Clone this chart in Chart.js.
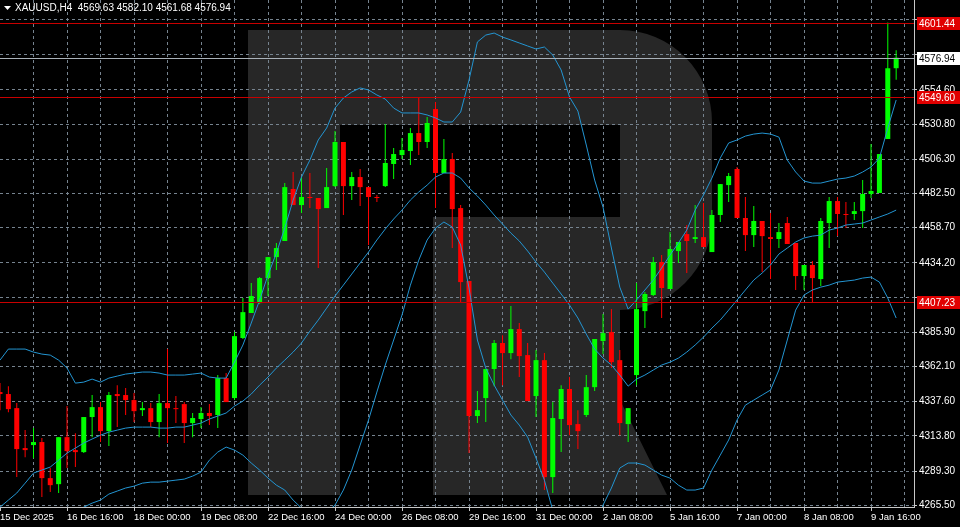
<!DOCTYPE html>
<html>
<head>
<meta charset="utf-8">
<script src="https://cdn.jsdelivr.net/npm/chart.js@4.4.1/dist/chart.umd.min.js"></script>
<style>
  html, body { margin: 0; padding: 0; background: #000; }
  canvas { display: block; }
</style>
</head>
<body>
<canvas id="chartGold" width="960" height="527"></canvas>
<script>
// ===== XAUUSD H4 — candles + Bollinger bands =====

const opens = [4344.3,4342.9,4333.1,4305.3,4307.4,4309.5,4284.4,4280.2,4312.9,4303.9,
  4302.5,4326.9,4333.8,4317.1,4342.9,4342.2,4338.7,4331.7,4333.1,4323.4,
  4336.6,4333.1,4335.9,4322.7,4325.5,4329.7,4328.3,4354.0,4340.1,4381.9,
  4399.3,4406.2,4423.6,4438.2,4449.4,4485.6,4474.4,4480.0,4479.3,4472.3,
  4487.6,4518.3,4487.6,4493.9,4486.9,4480.0,4487.6,4503.0,4509.2,4512.0,
  4524.5,4518.3,4541.2,4496.7,4506.4,4472.3,4421.5,4327.6,4340.1,4360.3,
  4378.4,4371.4,4388.1,4370.0,4341.5,4366.5,4285.1,4325.5,4346.4,4322.0,
  4328.3,4347.7,4379.8,4386.0,4366.5,4322.0,4356.1,4400.6,4411.8,4434.7,
  4416.0,4442.4,4454.2,4450.8,4452.1,4441.7,4467.5,4488.3,4499.5,4465.4,
  4453.5,4463.3,4452.1,4450.8,4461.9,4448.0,4425.0,4432.7,4422.9,4461.9,
  4477.2,4468.2,4468.2,4470.2,4482.1,4482.8,4520.4,4569.63];
const highs = [4350.5,4348.4,4336.6,4317.8,4319.2,4312.3,4291.4,4312.9,4334.5,4315.7,
  4326.9,4342.2,4337.3,4344.3,4349.1,4347.1,4343.6,4337.3,4336.6,4342.9,
  4374.2,4341.5,4337.3,4329.7,4333.8,4335.9,4356.1,4357.5,4386.0,4409.7,
  4420.1,4424.3,4438.2,4448.0,4489.7,4497.4,4493.9,4496.7,4479.3,4500.2,
  4525.9,4518.3,4497.4,4499.5,4486.9,4481.4,4530.8,4514.1,4521.1,4528.0,
  4548.9,4535.7,4546.1,4520.4,4510.6,4474.4,4421.5,4345.0,4360.3,4380.5,
  4383.9,4404.1,4392.3,4378.4,4373.5,4371.4,4337.3,4349.1,4354.7,4331.7,
  4356.1,4381.2,4398.6,4402.0,4373.5,4333.1,4420.1,4413.9,4438.2,4439.6,
  4455.6,4448.7,4460.5,4474.4,4475.8,4470.9,4489.0,4496.7,4500.9,4480.0,
  4473.7,4463.3,4468.9,4461.9,4466.1,4448.0,4432.7,4435.4,4465.4,4480.0,
  4480.0,4476.5,4476.5,4491.8,4516.9,4509.9,4601.44,4582.10];
const lows = [4331.7,4330.3,4285.1,4299.0,4298.3,4271.2,4274.7,4274.0,4291.4,4292.1,
  4301.8,4312.9,4309.5,4306.7,4319.9,4328.3,4323.4,4327.6,4319.9,4312.9,
  4308.8,4322.7,4308.8,4312.9,4319.2,4321.3,4319.2,4337.3,4338.7,4381.2,
  4399.3,4405.5,4411.1,4429.2,4449.4,4474.4,4468.9,4472.3,4430.6,4472.3,
  4486.9,4467.5,4477.9,4473.7,4446.6,4476.5,4486.9,4492.5,4506.4,4502.3,
  4509.2,4514.1,4472.3,4496.7,4444.5,4406.9,4301.8,4322.7,4323.4,4348.4,
  4349.1,4367.2,4354.7,4338.0,4326.9,4276.1,4274.0,4302.5,4314.3,4304.6,
  4326.9,4345.0,4370.7,4361.0,4314.3,4309.5,4349.1,4388.8,4411.1,4395.8,
  4416.0,4434.1,4427.1,4448.0,4445.2,4441.7,4462.6,4476.5,4465.4,4442.4,
  4445.2,4427.8,4422.9,4444.5,4447.3,4415.3,4415.3,4406.9,4418.0,4444.5,
  4452.8,4458.4,4464.0,4458.4,4479.3,4482.8,4520.4,4561.68];
const closes = [4342.9,4332.4,4304.6,4303.9,4309.5,4284.4,4279.5,4312.9,4303.2,4302.5,
  4326.9,4333.8,4317.1,4342.2,4341.5,4338.7,4331.0,4333.1,4323.4,4336.6,
  4333.1,4332.4,4322.7,4326.2,4329.7,4327.6,4354.0,4337.3,4383.2,4399.9,
  4411.1,4423.6,4438.2,4444.5,4486.9,4474.4,4480.0,4479.3,4471.6,4486.9,
  4518.3,4487.6,4493.9,4486.9,4480.0,4479.3,4503.7,4509.9,4512.7,4524.5,
  4518.3,4531.5,4496.7,4506.4,4471.6,4420.8,4327.6,4331.7,4360.3,4378.4,
  4371.4,4388.1,4369.3,4338.0,4366.5,4285.1,4326.2,4346.4,4321.3,4317.1,
  4347.7,4381.2,4385.3,4365.1,4322.7,4333.1,4402.0,4412.5,4434.7,4416.7,
  4443.8,4448.7,4449.4,4452.1,4445.2,4467.5,4489.0,4494.6,4465.4,4453.5,
  4463.3,4452.8,4450.8,4455.6,4447.3,4425.0,4432.7,4423.6,4463.3,4477.2,
  4468.2,4467.5,4470.2,4482.1,4484.2,4509.9,4569.6,4576.94];

const bbUpper = [4366.5,4374.2,4374.2,4374.2,4372.1,4370.7,4370.0,4366.5,4361.0,4350.5,
  4351.2,4353.3,4351.2,4354.0,4355.4,4356.8,4357.5,4358.2,4358.2,4357.5,
  4356.1,4356.1,4356.1,4356.8,4357.5,4354.7,4354.0,4354.0,4365.1,4377.0,
  4392.3,4408.3,4425.7,4441.0,4458.4,4477.9,4493.9,4505.7,4519.7,4528.0,
  4541.9,4548.9,4553.1,4555.9,4554.5,4551.0,4548.2,4541.9,4538.5,4538.5,
  4538.5,4537.1,4535.0,4532.2,4532.2,4539.1,4561.4,4587.9,4592.7,4594.1,
  4591.3,4589.3,4587.2,4585.1,4583.0,4584.4,4578.8,4568.4,4549.6,4539.8,
  4516.2,4491.8,4473.0,4444.5,4417.3,4402.0,4408.3,4415.3,4422.2,4430.6,
  4439.6,4448.0,4457.0,4470.9,4481.4,4493.2,4507.1,4517.6,4519.7,4522.4,
  4523.8,4524.5,4523.8,4521.7,4505.7,4497.4,4491.1,4489.7,4489.7,4491.1,
  4492.5,4493.2,4494.6,4497.4,4500.9,4507.1,4528.0,4547.5];
const bbMiddle = [4264.2,4269.1,4274.0,4280.9,4287.9,4290.0,4292.1,4296.9,4301.8,4305.3,
  4308.8,4311.6,4314.3,4316.4,4317.8,4319.2,4319.9,4319.9,4319.9,4319.2,
  4319.2,4319.9,4319.9,4321.3,4322.7,4325.5,4327.6,4329.7,4334.5,4338.0,
  4342.9,4349.1,4354.7,4361.0,4366.5,4372.1,4378.4,4386.7,4394.4,4402.7,
  4411.1,4418.7,4426.4,4434.1,4441.7,4450.1,4457.7,4464.7,4470.9,4477.9,
  4483.5,4488.3,4493.9,4496.7,4496.7,4493.2,4486.3,4480.7,4474.4,4467.5,
  4461.2,4454.9,4449.4,4442.4,4434.7,4427.8,4420.1,4412.5,4404.8,4395.8,
  4384.6,4374.2,4367.9,4363.1,4356.1,4348.4,4353.3,4356.1,4359.6,4363.1,
  4365.1,4367.9,4372.1,4377.0,4382.5,4388.8,4394.4,4401.3,4408.3,4415.3,
  4422.2,4427.1,4432.7,4440.3,4444.5,4448.7,4451.5,4452.8,4453.5,4457.0,
  4458.4,4460.5,4461.2,4461.9,4464.0,4466.1,4468.2,4470.9];
const bbLower = [4161.2,4164.7,4173.7,4187.7,4203.7,4209.2,4214.1,4227.3,4242.7,4260.1,
  4264.2,4267.0,4269.1,4273.3,4275.4,4277.5,4278.8,4280.9,4281.6,4281.6,
  4282.3,4283.0,4283.7,4285.8,4288.6,4296.9,4302.5,4306.0,4303.9,4300.4,
  4294.9,4290.0,4284.4,4279.5,4276.1,4269.1,4263.5,4260.7,4258.7,4260.7,
  4265.6,4276.1,4290.0,4307.4,4324.8,4344.3,4363.1,4380.5,4397.9,4418.7,
  4436.1,4450.1,4458.4,4462.6,4459.1,4446.6,4416.7,4380.5,4361.0,4349.1,
  4338.7,4328.3,4321.3,4312.9,4298.3,4283.0,4262.1,4248.2,4237.8,4234.3,
  4237.8,4248.2,4265.6,4277.5,4291.4,4294.9,4294.9,4293.5,4290.0,4286.5,
  4284.4,4279.5,4276.1,4276.1,4277.5,4290.0,4300.4,4310.9,4324.8,4335.2,
  4338.7,4342.2,4345.7,4359.6,4380.5,4401.3,4411.8,4415.3,4417.3,4418.7,
  4420.8,4421.5,4422.2,4423.6,4424.3,4420.8,4409.7,4395.8];

const xTickLabels = ['15 Dec 2025', '16 Dec 16:00', '18 Dec 00:00', '19 Dec 08:00', '22 Dec 16:00',
  '24 Dec 00:00', '26 Dec 08:00', '29 Dec 16:00', '31 Dec 00:00', '2 Jan 08:00',
  '5 Jan 16:00', '7 Jan 00:00', '8 Jan 08:00', '9 Jan 16:00'];
const yTickValues = [4265.5, 4289.3, 4313.8, 4337.6, 4362.1, 4385.9, 4410.4, 4434.2,
  4458.7, 4482.5, 4506.3, 4530.8, 4554.6, 4578.9, 4603.2];
// labels covered by the price tags in the original are left blank
const yTickLabels = ['4265.50', '4289.30', '4313.80', '4337.60', '4362.10', '4385.90', '', '4434.20',
  '4458.70', '4482.50', '4506.30', '4530.80', '4554.60', '', ''];
const levelLines = [4601.44, 4549.60, 4407.23];
const lastPrice = 4576.94;
const headerText = 'XAUUSD,H4  4569.63 4582.10 4561.68 4576.94';

const C = {
  bg: '#000000',
  up: '#00ff00',
  down: '#ff0000',
  band: '#2395d2',
  grid: '#76838f',
  axis: '#c8c8c8',
  level: '#c80000',
  price: '#a9b1b9',
  logo: '#272727',
  text: '#ffffff'
};
const fontAxis = "'Liberation Sans', Arial, sans-serif";

const candleColors = closes.map((c, i) => c >= opens[i] ? C.up : C.down);

// ----- background + watermark logo -----
const pluginBackdrop = {
  id: 'backdrop',
  beforeDraw(chart) {
    const { ctx, chartArea: a } = chart;
    ctx.save();
    ctx.fillStyle = C.bg;
    ctx.fillRect(0, 0, chart.width, chart.height);
    // logo drawn in a 914 x 507 design box scaled to the plot area
    const X = v => a.left + v / 914 * (a.right - a.left);
    const Y = v => a.top + v / 507 * (a.bottom - a.top);
    const r = 92 / 914 * (a.right - a.left);
    ctx.fillStyle = C.logo;
    ctx.beginPath();
    ctx.moveTo(X(248), Y(30));
    ctx.lineTo(X(620), Y(30));
    ctx.arcTo(X(712), Y(30), X(712), Y(122), r);
    ctx.lineTo(X(712), Y(218));
    ctx.arcTo(X(712), Y(310), X(620), Y(310), r);
    ctx.lineTo(X(620), Y(400));
    ctx.lineTo(X(667), Y(495));
    ctx.lineTo(X(433), Y(495));
    ctx.lineTo(X(433), Y(217));
    ctx.lineTo(X(620), Y(217));
    ctx.lineTo(X(620), Y(125));
    ctx.lineTo(X(340), Y(125));
    ctx.lineTo(X(340), Y(495));
    ctx.lineTo(X(248), Y(495));
    ctx.closePath();
    ctx.fill();
    ctx.restore();
  }
};

// ----- horizontal levels, price tags, header -----
const pluginLevels = {
  id: 'levels',
  afterDatasetsDraw(chart) {
    const { ctx, chartArea: a, scales: { y } } = chart;
    const tag = (v, fill, txtColor) => {
      const py = Math.round(y.getPixelForValue(v));
      ctx.fillStyle = fill;
      ctx.fillRect(a.right + 3, py - 6, chart.width - a.right - 3, 13);
      ctx.fillStyle = txtColor;
      ctx.font = `10px ${fontAxis}`;
      ctx.textAlign = 'left';
      ctx.textBaseline = 'middle';
      ctx.fillText(v.toFixed(2), a.right + 5, py + 1);
    };
    ctx.save();
    ctx.lineWidth = 1;
    const hline = (v, color) => {
      const py = Math.round(y.getPixelForValue(v)) + 0.5;
      ctx.strokeStyle = color;
      ctx.beginPath();
      ctx.moveTo(a.left, py);
      ctx.lineTo(a.right, py);
      ctx.stroke();
    };
    hline(lastPrice, C.price);
    levelLines.forEach(v => hline(v, C.level));
    tag(lastPrice, '#ffffff', '#000000');
    levelLines.forEach(v => tag(v, '#e00000', '#ffffff'));
    ctx.restore();
  },
  afterDraw(chart) {
    const { ctx } = chart;
    ctx.save();
    ctx.fillStyle = C.text;
    ctx.beginPath();
    ctx.moveTo(4, 6); ctx.lineTo(11, 6); ctx.lineTo(7.5, 10);
    ctx.closePath();
    ctx.fill();
    ctx.font = `10px ${fontAxis}`;
    ctx.textAlign = 'left';
    ctx.textBaseline = 'middle';
    ctx.fillText(headerText, 15, 8);
    ctx.restore();
  }
};

const xy = arr => arr.map((v, i) => ({ x: i, y: v }));

new Chart(document.getElementById('chartGold'), {
  type: 'bar',
  data: {
    datasets: [
      {
        type: 'line', label: 'BB upper', data: xy(bbUpper),
        borderColor: C.band, borderWidth: 1, pointRadius: 0, tension: 0, fill: false, order: 0
      },
      {
        type: 'line', label: 'BB middle', data: xy(bbMiddle),
        borderColor: C.band, borderWidth: 1, pointRadius: 0, tension: 0, fill: false, order: 0
      },
      {
        type: 'line', label: 'BB lower', data: xy(bbLower),
        borderColor: C.band, borderWidth: 1, pointRadius: 0, tension: 0, fill: false, order: 0
      },
      {
        label: 'Bodies',
        data: opens.map((o, i) => ({ x: i, y: [o, closes[i]] })),
        backgroundColor: candleColors,
        barThickness: 5, minBarLength: 1, inflateAmount: 0, borderWidth: 0, order: 1
      },
      {
        label: 'Wicks',
        data: lows.map((l, i) => ({ x: i, y: [l, highs[i]] })),
        backgroundColor: candleColors,
        barThickness: 1, minBarLength: 1, inflateAmount: 0, borderWidth: 0, order: 2
      }
    ]
  },
  options: {
    responsive: false,
    animation: false,
    devicePixelRatio: 1,
    layout: { padding: 0 },
    plugins: { legend: { display: false }, tooltip: { enabled: false } },
    scales: {
      x: {
        type: 'linear', min: 0, max: 109.13, offset: false, stacked: true,
        afterBuildTicks: s => {
          s.ticks = [];
          for (let v = 0; v <= 108; v += 4) s.ticks.push({ value: v });
        },
        afterFit: s => { s.height = 20; s.paddingLeft = 0; s.paddingRight = 0; },
        grid: {
          offset: false,
          color: c => (c.tick && c.tick.value === 0) ? 'rgba(0,0,0,0)' : C.grid,
          tickColor: c => (c.tick && c.tick.value % 8 === 0) ? C.axis : 'rgba(0,0,0,0)',
          tickLength: 4
        },
        border: { color: C.axis, dash: [3, 3] },
        ticks: {
          autoSkip: false, maxRotation: 0, minRotation: 0, align: 'start', padding: 1,
          color: C.text, font: { family: fontAxis, size: 9.5 },
          callback: v => v % 8 === 0 ? xTickLabels[v / 8] : ''
        }
      },
      y: {
        position: 'right', min: 4264.3, max: 4617.1, stacked: false,
        afterBuildTicks: s => { s.ticks = yTickValues.map(v => ({ value: v })); },
        afterFit: s => { s.width = 46; s.paddingTop = 0; s.paddingBottom = 0; },
        grid: { color: C.grid, tickColor: C.axis, tickLength: 3 },
        border: { color: C.axis, dash: [3, 3] },
        ticks: {
          padding: 2, color: C.text, font: { family: fontAxis, size: 10 },
          callback: (v, i) => yTickLabels[i]
        }
      }
    }
  },
  plugins: [pluginBackdrop, pluginLevels]
});
</script>
</body>
</html>
